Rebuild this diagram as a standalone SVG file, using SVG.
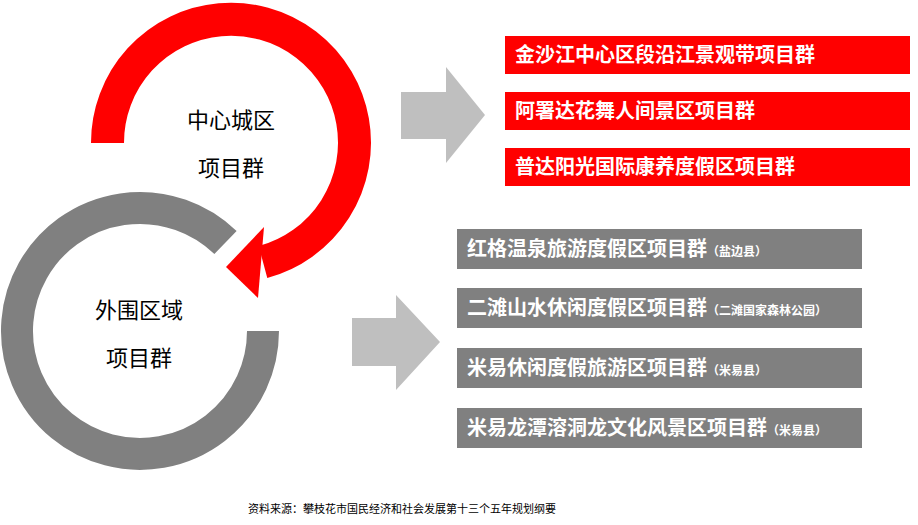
<svg xmlns="http://www.w3.org/2000/svg" width="918" height="525" viewBox="0 0 918 525">
<style>
text{font-family:"Liberation Sans","Noto Sans CJK SC",sans-serif}
.lbl{font-size:22px;fill:#000;text-anchor:middle}
.rb{fill:#FF0000}.gb{fill:#808080}
.bt{font-size:20px;font-weight:bold;fill:#fff}
.st{font-size:12px;font-weight:bold;fill:#fff}
.arr{fill:#BFBFBF}
</style>
<rect width="918" height="525" fill="#fff"/>
<g id="connectors">
<path d="M107.5 143 A123.5 123.5 0 1 1 263 262" fill="none" stroke="#FF0000" stroke-width="33"/>
<polygon points="264,227 226,267 258,298" fill="#FF0000"/>
<path class="arr" d="M401 92 H446 V67 L485 115 L446 163 V139 H401 Z"/>
<path class="arr" d="M352 318 H396 V295 L440 342 L396 390 V366 H352 Z"/>
</g>
<g id="outer-ring">
<path d="M263 331 A123 123 0 1 1 225.5 242.5" fill="none" stroke="#808080" stroke-width="32"/>
</g>
<g id="center"><text class="lbl" x="231" y="128">中心城区</text><text class="lbl" x="231" y="176">项目群</text></g>
<g id="outer"><text class="lbl" x="139" y="318">外围区域</text><text class="lbl" x="139" y="366">项目群</text></g>
<g id="r1"><rect class="rb" x="505" y="36" width="405" height="38"/><text class="bt" x="515" y="62">金沙江中心区段沿江景观带项目群</text></g>
<g id="r2"><rect class="rb" x="505" y="92" width="405" height="38"/><text class="bt" x="515" y="118">阿署达花舞人间景区项目群</text></g>
<g id="r3"><rect class="rb" x="505" y="148" width="405" height="38"/><text class="bt" x="515" y="174">普达阳光国际康养度假区项目群</text></g>
<g id="g1"><rect class="gb" x="457" y="229" width="405" height="40"/><text class="bt" x="467" y="256">红格温泉旅游度假区项目群<tspan class="st">（盐边县）</tspan></text></g>
<g id="g2"><rect class="gb" x="457" y="288" width="405" height="40"/><text class="bt" x="467" y="315">二滩山水休闲度假区项目群<tspan class="st">（二滩国家森林公园）</tspan></text></g>
<g id="g3"><rect class="gb" x="457" y="348" width="405" height="40"/><text class="bt" x="467" y="375">米易休闲度假旅游区项目群<tspan class="st">（米易县）</tspan></text></g>
<g id="g4"><rect class="gb" x="457" y="408" width="405" height="40"/><text class="bt" x="467" y="435">米易龙潭溶洞龙文化风景区项目群<tspan class="st">（米易县）</tspan></text></g>
<text x="248" y="513" font-size="11" fill="#000">资料来源：攀枝花市国民经济和社会发展第十三个五年规划纲要</text>
</svg>
